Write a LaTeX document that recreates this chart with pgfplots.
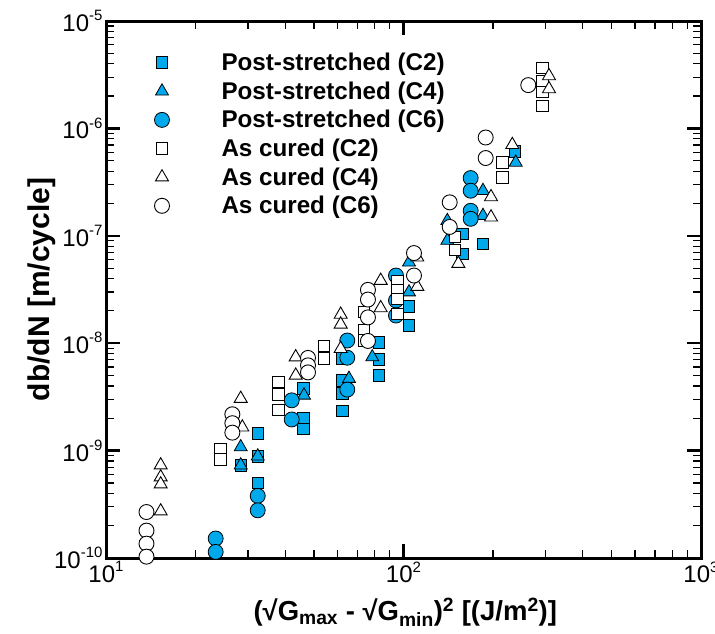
\documentclass[border=0pt]{standalone}
\usepackage{pgfplots}
\pgfplotsset{compat=1.18}
\usepackage{fontspec}
\setmainfont{Liberation Sans}
\definecolor{psblue}{RGB}{0,169,236}
\newcommand{\ep}[1]{\raisebox{0.45em}{\fontsize{15}{15}\selectfont #1}}
\begin{document}
\begin{tikzpicture}
\path[use as bounding box] (-106pt,-75pt) rectangle (609pt,558pt);
\begin{axis}[
  at={(0,0)}, anchor=south west,
  scale only axis, width=595pt, height=537pt,
  xmode=log, ymode=log, log basis x=10, log basis y=10,
  xmin=10, xmax=1000, ymin=1e-10, ymax=1e-5,
  axis line style={line width=3pt},
  tick align=inside,
  major tick length=14pt, minor tick length=8pt,
  major tick style={line width=2.4pt, black},
  minor tick style={line width=1.2pt, black},
  xticklabel={\pgfmathparse{int(round(\tick))}10\ep{\pgfmathresult}},
  yticklabel={\pgfmathparse{int(round(\tick))}10\ep{\pgfmathresult}},
  ticklabel style={font=\fontsize{24}{24}\selectfont},
  xlabel={\textbf{(√G\textsubscript{max} - √G\textsubscript{min})\textsuperscript{2} [(J/m\textsuperscript{2})]}},
  ylabel={\textbf{db/dN [m/cycle]}},
  every axis x label/.style={at={(axis description cs:0.503,-0.117)}, anchor=base, font=\fontsize{27.5}{27.5}\selectfont},
  every axis y label/.style={at={(axis description cs:-0.108,0.5)}, rotate=90, anchor=center, font=\fontsize{30}{30}\selectfont},
  legend style={draw=none, fill=none, at={(axis cs:14.2,5.5e-6)}, anchor=north west,
    font=\fontsize{24.2}{28}\selectfont\bfseries, cells={anchor=west}, row sep=5.6pt},
  legend cell align=left,
]
\addplot[only marks, mark=square*, mark size=5.8pt, mark options={fill=psblue, draw=black, line width=0.8pt}] coordinates {
(28.37,7.32e-10) (32.36,1.44e-9) (32.36,8.87e-10) (32.36,5.01e-10)
(46.05,3.78e-9) (46.05,1.99e-9) (46.05,1.60e-9)
(62.27,7.18e-9) (62.27,4.51e-9) (62.27,3.39e-9) (62.27,2.34e-9)
(82.71,1.02e-8) (82.71,7.03e-9) (82.71,5.02e-9)
(104.35,2.20e-8) (104.35,1.46e-8)
(157.6,1.04e-7) (157.6,6.79e-8) (185.0,8.41e-8) (236.5,6.10e-7)
};
\addlegendentry{\hspace*{50pt}Post-stretched (C2)}
\addplot[only marks, mark=triangle*, mark size=7.5pt, mark options={fill=psblue, draw=black, line width=0.8pt}] coordinates {
(28.37,1.08e-9) (28.37,7.32e-10) (32.36,8.87e-10) (46.30,3.27e-9)
(65.58,4.68e-9) (78.54,7.43e-9)
(104.35,5.67e-8) (104.35,2.99e-8)
(140.4,1.38e-7) (140.4,9.03e-8)
(185.0,2.63e-7) (185.0,1.54e-7) (238.3,4.82e-7)
};
\addlegendentry{\hspace*{50pt}Post-stretched (C4)}
\addplot[only marks, mark=*, mark size=7.5pt, mark options={fill=psblue, draw=black, line width=0.8pt}] coordinates {
(23.37,1.52e-10) (23.37,1.14e-10) (32.36,3.79e-10) (32.36,2.78e-10)
(42.10,2.94e-9) (42.10,1.95e-9)
(64.73,1.06e-8) (64.73,7.33e-9) (64.73,3.70e-9)
(94.35,4.27e-8) (94.35,2.50e-8) (94.35,1.81e-8)
(168.2,3.45e-7) (168.2,2.63e-7) (168.2,1.71e-7) (168.2,1.44e-7)
};
\addlegendentry{\hspace*{50pt}Post-stretched (C6)}
\addplot[only marks, mark=square*, mark size=5.8pt, mark options={fill=white, draw=black, line width=0.9pt}] coordinates {
(24.30,1.02e-9) (24.30,8.27e-10)
(37.95,4.37e-9) (37.95,3.34e-9) (37.95,2.40e-9)
(54.05,9.44e-9) (54.05,7.18e-9)
(73.64,1.95e-8) (73.64,1.32e-8) (73.64,1.06e-8)
(95.45,3.75e-8) (95.45,3.10e-8) (95.45,2.59e-8) (95.45,1.88e-8)
(149.0,9.77e-8) (149.0,7.40e-8)
(214.8,4.82e-7) (214.8,3.50e-7)
(293.8,3.66e-6) (293.8,2.77e-6) (293.8,2.19e-6) (293.8,1.62e-6)
};
\addlegendentry{\hspace*{50pt}As cured (C2)}
\addplot[only marks, mark=triangle*, mark size=7.5pt, mark options={fill=white, draw=black, line width=0.9pt}] coordinates {
(15.27,7.32e-10) (15.27,5.66e-10) (15.27,4.87e-10) (15.27,2.73e-10)
(28.37,3.05e-9) (28.72,1.65e-9)
(43.42,7.43e-9) (43.42,5.02e-9)
(61.50,1.85e-8) (61.50,1.50e-8) (61.50,8.89e-9)
(83.82,3.83e-8) (83.82,2.13e-8)
(111.27,6.31e-8) (111.27,3.37e-8) (152.9,5.51e-8)
(196.9,2.30e-7) (196.9,1.49e-7) (232.1,7.04e-7)
(308.4,3.08e-6) (308.4,2.33e-6)
};
\addlegendentry{\hspace*{50pt}As cured (C4)}
\addplot[only marks, mark=*, mark size=7.5pt, mark options={fill=white, draw=black, line width=0.9pt}] coordinates {
(13.68,2.68e-10) (13.68,1.80e-10) (13.68,1.36e-10) (13.68,1.03e-10)
(26.59,2.18e-9) (26.59,1.80e-9) (26.59,1.47e-9)
(47.75,7.30e-9) (47.75,6.22e-9) (47.75,5.35e-9)
(75.96,3.14e-8) (75.96,2.55e-8) (75.96,1.74e-8) (75.96,1.05e-8)
(108.46,6.91e-8) (108.46,4.27e-8)
(143.0,2.05e-7) (143.0,1.21e-7)
(188.9,8.23e-7) (188.9,5.30e-7) (262.7,2.53e-6)
};
\addlegendentry{\hspace*{50pt}As cured (C6)}
\end{axis}
\end{tikzpicture}
\end{document}
